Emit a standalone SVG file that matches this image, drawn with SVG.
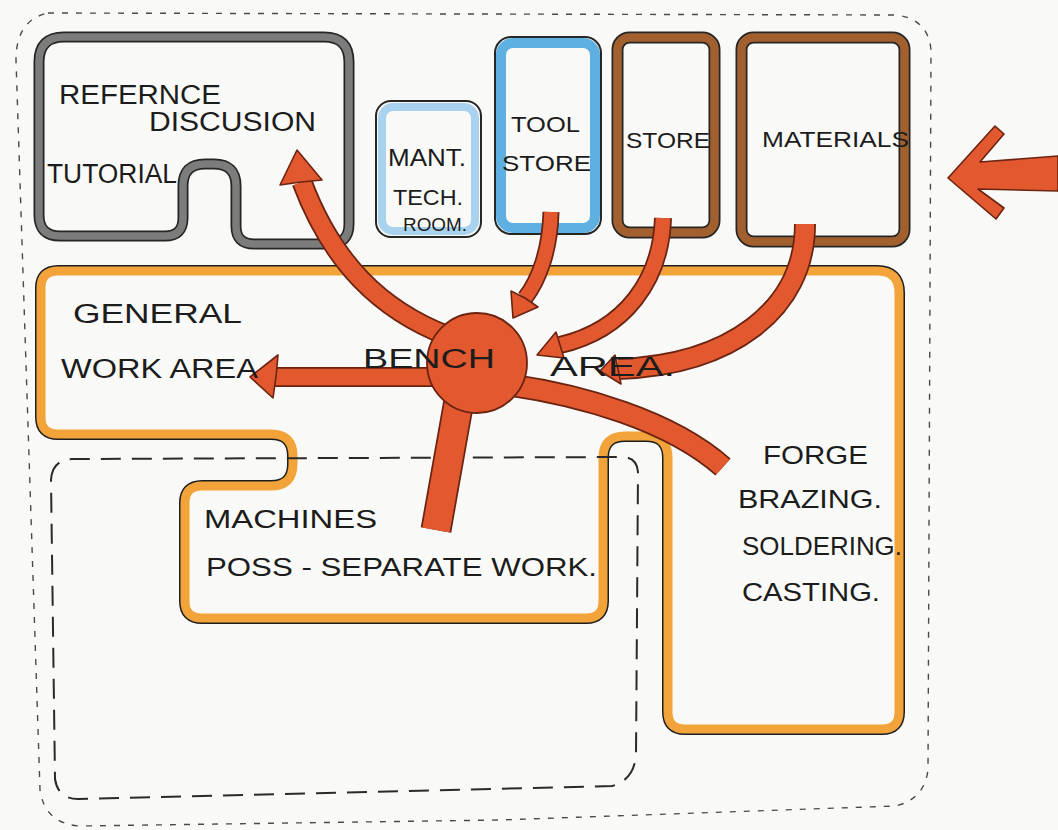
<svg xmlns="http://www.w3.org/2000/svg" width="1058" height="830" viewBox="0 0 1058 830">
  <style>
    .lbl { font-family: "Liberation Sans", Arial, sans-serif; fill: #1c1c1c; }
    .edge { fill: none; stroke: #262626; stroke-linejoin: round; }
    .band-gray { fill: none; stroke: #7c7c7c; stroke-linejoin: round; }
    .band-brown { fill: none; stroke: #a3602f; stroke-linejoin: round; }
    .shaft-out { fill: none; stroke: #6b2412; stroke-linecap: butt; }
    .shaft-in { fill: none; stroke: #e2582f; stroke-linecap: butt; }
    .head { fill: #e2582f; stroke: #6b2412; stroke-width: 1.6; stroke-linejoin: round; }
  </style>

  <rect x="0" y="0" width="1058" height="830" fill="#f9faf7"/>

  <!-- site boundary, dotted -->
  <g id="site-boundary">
    <path d="M 48 13 L 895 15 Q 928 18 931 50 L 928 770 Q 924 800 895 806 L 500 820 L 80 826 Q 45 824 40 790 L 16 60 Q 16 20 48 13 Z"
          fill="none" stroke="#4a4a4a" stroke-width="1.4" stroke-dasharray="6 8"/>
  </g>

  <!-- reference / discussion / tutorial room -->
  <g id="reference-room">
    <path id="ref-outline" d="M 64 37 L 324 37 Q 349 37 349 62 L 349 224 Q 349 244 329 244 L 254 244 Q 236 244 236 226 L 236 186 Q 236 164 214 164 L 205 164 Q 183 164 183 186 L 183 218 Q 183 236 165 236 L 60 236 Q 39 236 39 215 L 39 62 Q 39 37 64 37 Z"
          class="edge" stroke-width="11"/>
    <path d="M 64 37 L 324 37 Q 349 37 349 62 L 349 224 Q 349 244 329 244 L 254 244 Q 236 244 236 226 L 236 186 Q 236 164 214 164 L 205 164 Q 183 164 183 186 L 183 218 Q 183 236 165 236 L 60 236 Q 39 236 39 215 L 39 62 Q 39 37 64 37 Z"
          class="band-gray" stroke-width="7.5"/>
  </g>

  <!-- maintenance / technician room -->
  <g id="maint-tech-room">
    <rect x="382" y="107" width="93" height="124" rx="11" fill="none" stroke="#a8d2ee" stroke-width="8"/>
    <rect x="376" y="101" width="105" height="136" rx="15" class="edge" stroke-width="2"/>
  </g>

  <!-- tool store -->
  <g id="tool-store">
    <rect x="501" y="43" width="94" height="185" rx="12" fill="none" stroke="#5eb0e2" stroke-width="10"/>
    <rect x="495" y="37" width="106" height="197" rx="16" class="edge" stroke-width="2"/>
  </g>

  <!-- store -->
  <g id="store">
    <rect x="617.5" y="37.5" width="97" height="195" rx="12" class="edge" stroke-width="12"/>
    <rect x="617.5" y="37.5" width="97" height="195" rx="12" class="band-brown" stroke-width="8.5"/>
  </g>

  <!-- materials -->
  <g id="materials">
    <rect x="741.5" y="37.5" width="163" height="204" rx="12" class="edge" stroke-width="12"/>
    <rect x="741.5" y="37.5" width="163" height="204" rx="12" class="band-brown" stroke-width="8.5"/>
  </g>

  <!-- general work area, bench area, machines and forge: one orange outline -->
  <g id="general-work-area">
    <path d="M 58 271 L 877 271 Q 899 271 899 293 L 899 712 Q 899 729 882 729 L 685 729 Q 668 729 668 712 L 668 458 Q 668 436 646 436 L 625 436 Q 603 436 603 458 L 603 601 Q 603 618 586 618 L 202 618 Q 185 618 185 601 L 185 503 Q 185 486 202 486 L 271 486 Q 293 486 293 464 L 293 456 Q 293 434 271 434 L 58 434 Q 41 434 41 417 L 41 288 Q 41 271 58 271 Z"
          fill="none" stroke="#1e1e1e" stroke-width="12" stroke-linejoin="round"/>
    <path d="M 58 271 L 877 271 Q 899 271 899 293 L 899 712 Q 899 729 882 729 L 685 729 Q 668 729 668 712 L 668 458 Q 668 436 646 436 L 625 436 Q 603 436 603 458 L 603 601 Q 603 618 586 618 L 202 618 Q 185 618 185 601 L 185 503 Q 185 486 202 486 L 271 486 Q 293 486 293 464 L 293 456 Q 293 434 271 434 L 58 434 Q 41 434 41 417 L 41 288 Q 41 271 58 271 Z"
          fill="#f9faf7" stroke="#f2a43a" stroke-width="9" stroke-linejoin="round"/>
  </g>

  <!-- machine zone, dashed -->
  <g id="machines-zone">
    <path d="M 51 480 Q 52 460 72 459 L 622 457 Q 637 457 638 472 L 636 755 Q 634 780 612 786 L 78 799 Q 58 799 55 779 Z"
          fill="none" stroke="#2a2a2a" stroke-width="2" stroke-dasharray="20 11"/>
  </g>

  <!-- flows between spaces -->
  <g id="connectors">
    <!-- shafts: dark outline under orange fill -->
    <g class="shaft-out">
      <path d="M 448 336 C 380 310, 332 262, 302 182" stroke-width="21"/>
      <path d="M 440 377 L 274 377" stroke-width="20"/>
      <path d="M 460 395 L 436 530" stroke-width="31"/>
      <path d="M 510 385 C 580 395, 670 420, 723 467" stroke-width="23"/>
      <path d="M 551 212 C 550 250, 539 280, 525 298" stroke-width="17"/>
      <path d="M 663 218 C 661 280, 625 330, 560 345" stroke-width="18"/>
      <path d="M 805 224 C 805 310, 730 365, 618 369" stroke-width="22"/>
    </g>
    <g class="shaft-in">
      <path d="M 448 336 C 380 310, 332 262, 302 182" stroke-width="17.5"/>
      <path d="M 440 377 L 274 377" stroke-width="16.5"/>
      <path d="M 460 395 L 436 530" stroke-width="27.5"/>
      <path d="M 510 385 C 580 395, 670 420, 723 467" stroke-width="19.5"/>
      <path d="M 551 212 C 550 250, 539 280, 525 298" stroke-width="13.5"/>
      <path d="M 663 218 C 661 280, 625 330, 560 345" stroke-width="14.5"/>
      <path d="M 805 224 C 805 310, 730 365, 618 369" stroke-width="18.5"/>
    </g>
    <!-- arrowheads -->
    <polygon class="head" points="297,150 322,180 301,182 280,185"/>
    <polygon class="head" points="250,377 278,355 276,377 273,398"/>
    <polygon class="head" points="513,318 511,291 525,298 538,307"/>
    <polygon class="head" points="537,355 556,332 560,345 564,358"/>
    <polygon class="head" points="600,371 615,355 618,369 621,384"/>
    <!-- incoming delivery from outside -->
    <polygon class="head" points="948,178 995,126 1004,134 980,162 1058,156 1058,191 978,189 1004,208 996,219"/>
  </g>

  <!-- bench hub -->
  <g id="bench">
    <circle cx="477" cy="363" r="50" fill="#e2582f" stroke="#6b2412" stroke-width="1.8"/>
  </g>

  <!-- labels -->
  <g id="labels">
    <text class="lbl" x="59" y="104" font-size="27" textLength="162" lengthAdjust="spacingAndGlyphs">REFERNCE</text>
    <text class="lbl" x="149" y="131" font-size="27" textLength="167" lengthAdjust="spacingAndGlyphs">DISCUSION</text>
    <text class="lbl" x="47" y="183" font-size="27" textLength="130" lengthAdjust="spacingAndGlyphs">TUTORIAL</text>

    <text class="lbl" x="388" y="166" font-size="23" textLength="78" lengthAdjust="spacingAndGlyphs">MANT.</text>
    <text class="lbl" x="393" y="205" font-size="22" textLength="70" lengthAdjust="spacingAndGlyphs">TECH.</text>
    <text class="lbl" x="403" y="231" font-size="18" textLength="64" lengthAdjust="spacingAndGlyphs">ROOM.</text>

    <text class="lbl" x="511" y="132" font-size="22" textLength="69" lengthAdjust="spacingAndGlyphs">TOOL</text>
    <text class="lbl" x="502" y="171" font-size="22" textLength="89" lengthAdjust="spacingAndGlyphs">STORE</text>
    <text class="lbl" x="626" y="148" font-size="22" textLength="84" lengthAdjust="spacingAndGlyphs">STORE</text>
    <text class="lbl" x="762" y="147" font-size="22" textLength="147" lengthAdjust="spacingAndGlyphs">MATERIALS</text>

    <text class="lbl" x="73" y="323" font-size="27" textLength="169" lengthAdjust="spacingAndGlyphs">GENERAL</text>
    <text class="lbl" x="61" y="378" font-size="27" textLength="197" lengthAdjust="spacingAndGlyphs">WORK AREA</text>
    <text class="lbl" x="363" y="368" font-size="27" textLength="132" lengthAdjust="spacingAndGlyphs">BENCH</text>
    <text class="lbl" x="550" y="376" font-size="27" textLength="125" lengthAdjust="spacingAndGlyphs">AREA.</text>

    <text class="lbl" x="763" y="464" font-size="25" textLength="105" lengthAdjust="spacingAndGlyphs">FORGE</text>
    <text class="lbl" x="738" y="508" font-size="25" textLength="144" lengthAdjust="spacingAndGlyphs">BRAZING.</text>
    <text class="lbl" x="742" y="555" font-size="25" textLength="160" lengthAdjust="spacingAndGlyphs">SOLDERING.</text>
    <text class="lbl" x="742" y="601" font-size="25" textLength="138" lengthAdjust="spacingAndGlyphs">CASTING.</text>

    <text class="lbl" x="204" y="528" font-size="25" textLength="173" lengthAdjust="spacingAndGlyphs">MACHINES</text>
    <text class="lbl" x="206" y="576" font-size="25" textLength="391" lengthAdjust="spacingAndGlyphs">POSS - SEPARATE WORK.</text>
  </g>
</svg>
